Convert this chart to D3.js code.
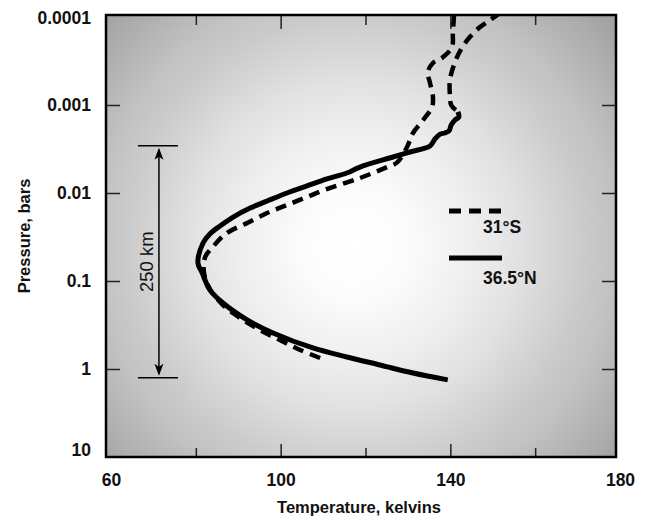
<!DOCTYPE html>
<html>
<head>
<meta charset="utf-8">
<script src="https://cdn.jsdelivr.net/npm/d3@7"></script>
<style>
  body { margin: 0; background: #fff; }
  svg { display: block; font-family: "Liberation Sans", Arial, sans-serif; }
</style>
</head>
<body>
<div id="chart"></div>
<script>
// 36.5°N profile, solid part (bottom to top)
const northTemp = [139.4, 131.2, 123.4, 115.6, 107.6, 98.2, 92.1, 86.4, 83.3, 81.5, 80.5,
  81.7, 83.3, 85.7, 88.8, 92.8, 96.8, 101.5, 106.2, 110.9, 115.6, 118.7, 126.5, 130.5, 135.2,
  136.4, 137.6, 138.7, 139.7, 140.2, 141.1, 142.0, 141.8]
const northPres = [1.33, 1.11, 0.90, 0.73, 0.577, 0.39, 0.277, 0.178, 0.126, 0.081, 0.0624,
  0.037, 0.0292, 0.0237, 0.01875, 0.01481, 0.01233, 0.0100, 0.00832, 0.00693, 0.00593, 0.00507, 0.0039, 0.00342, 0.00292,
  0.00243, 0.00214, 0.00208, 0.00197, 0.00169, 0.00148, 0.00137, 0.0012]

// 36.5°N continuation above the wiggle (drawn dashed)
const northUpperTemp = [141.3, 140.2, 139.9, 139.9, 141.1, 142.7, 144.6, 147.0, 149.4, 151.7]
const northUpperPres = [0.00114, 0.001, 0.00077, 0.00052, 0.000324, 0.000225, 0.000169, 0.00013, 0.000108, 0.00009]

// 31°S profile (bottom to top)
const southTemp = [109.3, 104.6, 99.8, 95.1, 90.4, 86.4, 83.3, 81.9, 82.2, 84.0, 87.3, 92.1,
  96.8, 101.5, 106.2, 110.9, 118.7, 125.1, 127.4, 129.8, 131.2, 133.6, 135.7, 135.9, 135.2,
  134.7, 135.9, 138.3, 140.4, 140.6, 140.9]
const southPres = [0.75, 0.608, 0.468, 0.36, 0.263, 0.1875, 0.123, 0.079, 0.0534, 0.041, 0.0285, 0.0219,
  0.0169, 0.0137, 0.0111, 0.00901, 0.00676, 0.00507, 0.00452, 0.0030, 0.00208, 0.00148, 0.00105, 0.00081, 0.00056,
  0.000422, 0.000333, 0.000285, 0.000219, 0.000152, 0.00009]

const xTicks = [60, 80, 100, 120, 140, 160, 180]
const xLabels = [60, 100, 140, 180]
const yTicks = [0.0001, 0.001, 0.01, 0.1, 1, 10]
const yLabels = ["0.0001", "0.001", "0.01", "0.1", "1", "10"]
const seriesNames = ["31°S", "36.5°N"]

// height bar annotation
const scaleLabel = "250 km"
const scaleTemp = 71.3
const scalePres = [0.0029, 1.26]

// setup the dimensions
const W = 651, H = 520
const frame = { left: 106, top: 15, right: 616, bottom: 457 }

const svg = d3.select("#chart").append("svg")
  .attr("width", W)
  .attr("height", H)

const x = d3.scaleLinear().domain([60, 180]).range([111, 620])
const y = d3.scaleLog().domain([1e-4, 10]).range([17, 457])

// background shading
const defs = svg.append("defs")
const grad = defs.append("radialGradient")
  .attr("id", "bg")
  .attr("gradientUnits", "userSpaceOnUse")
  .attr("cx", 355).attr("cy", 245).attr("r", 345)
const stops = [[0, "#ffffff"], [0.15, "#fcfcfc"], [0.34, "#eeeeee"], [0.47, "#e2e2e2"],
  [0.66, "#cbcbcb"], [0.75, "#c2c2c2"], [1, "#a0a0a0"]]
stops.forEach(s => grad.append("stop").attr("offset", s[0]).attr("stop-color", s[1]))

defs.append("clipPath").attr("id", "clip")
  .append("rect")
    .attr("x", frame.left).attr("y", frame.top)
    .attr("width", frame.right - frame.left)
    .attr("height", frame.bottom - frame.top)

svg.append("rect")
  .attr("x", frame.left).attr("y", frame.top)
  .attr("width", frame.right - frame.left)
  .attr("height", frame.bottom - frame.top)
  .attr("fill", "url(#bg)")

function styleAxis(g, fontSize) {
  g.select(".domain").remove()
  g.selectAll(".tick line").attr("stroke", "#222").attr("stroke-width", 1.5)
  g.selectAll(".tick text")
    .attr("fill", "#111")
    .style("font-size", fontSize + "px")
    .style("font-weight", "bold")
}

// left axis
const leftAxis = svg.append("g")
  .attr("transform", `translate(${frame.left},0)`)
  .call(d3.axisLeft(y).tickValues(yTicks).tickFormat((d, i) => yLabels[i]).tickSize(-14).tickPadding(15))
styleAxis(leftAxis, 17.5)
leftAxis.selectAll(".tick").filter(d => d === 10 || d === 0.0001).select("line").remove()
leftAxis.selectAll(".tick text").filter(d => d === 10).attr("y", -7)
leftAxis.selectAll(".tick text").filter(d => d === 0.0001).attr("y", 1)

// right axis
const rightAxis = svg.append("g")
  .attr("transform", `translate(${frame.right},0)`)
  .call(d3.axisRight(y).tickValues(yTicks.slice(1, -1)).tickFormat("").tickSize(-14))
styleAxis(rightAxis, 17.5)

// bottom axis, labelled ticks then minor ones
const bottomAxis = svg.append("g")
  .attr("transform", `translate(0,${frame.bottom})`)
  .call(d3.axisBottom(x).tickValues(xLabels).tickSize(-13).tickPadding(17))
styleAxis(bottomAxis, 17.5)
bottomAxis.selectAll(".tick").filter(d => d === 60 || d === 180).select("line").remove()

const minorX = xTicks.filter(d => !xLabels.includes(d))
const bottomMinor = svg.append("g")
  .attr("transform", `translate(0,${frame.bottom})`)
  .call(d3.axisBottom(x).tickValues(minorX).tickFormat("").tickSize(-9))
styleAxis(bottomMinor, 17.5)

// top axis
const topAxis = svg.append("g")
  .attr("transform", `translate(0,${frame.top})`)
  .call(d3.axisTop(x).tickValues([100, 140]).tickFormat("").tickSize(-14))
styleAxis(topAxis, 17.5)
const topMinor = svg.append("g")
  .attr("transform", `translate(0,${frame.top})`)
  .call(d3.axisTop(x).tickValues(minorX).tickFormat("").tickSize(-10))
styleAxis(topMinor, 17.5)

// the profiles
const line = d3.line()
  .curve(d3.curveCatmullRom.alpha(0.5))
  .x(d => x(d[0]))
  .y(d => y(d[1]))

const curves = svg.append("g").attr("clip-path", "url(#clip)")

curves.append("path")
  .datum(d3.zip(southTemp, southPres))
  .attr("fill", "none")
  .attr("stroke", "#000")
  .attr("stroke-width", 4.5)
  .attr("stroke-dasharray", "11,7")
  .attr("d", line)

curves.append("path")
  .datum(d3.zip(northUpperTemp, northUpperPres))
  .attr("fill", "none")
  .attr("stroke", "#000")
  .attr("stroke-width", 4.5)
  .attr("stroke-dasharray", "11,7")
  .attr("d", line)

curves.append("path")
  .datum(d3.zip(northTemp, northPres))
  .attr("fill", "none")
  .attr("stroke", "#000")
  .attr("stroke-width", 5)
  .attr("stroke-linejoin", "round")
  .attr("d", line)

// 250 km height bar
const bx = x(scaleTemp)
const yTop = y(scalePres[0]), yBot = y(scalePres[1])
const anno = svg.append("g").attr("stroke", "#000").attr("stroke-width", 1.5)
anno.append("line").attr("x1", bx).attr("x2", bx).attr("y1", yTop + 4).attr("y2", yBot - 4)
anno.append("line").attr("x1", bx - 21).attr("x2", bx + 19).attr("y1", yTop).attr("y2", yTop)
anno.append("line").attr("x1", bx - 21).attr("x2", bx + 19).attr("y1", yBot).attr("y2", yBot)
svg.append("path")
  .attr("d", `M${bx},${yTop + 2} L${bx + 4.5},${yTop + 14} L${bx},${yTop + 11} L${bx - 4.5},${yTop + 14} Z`)
  .attr("fill", "#000")
svg.append("path")
  .attr("d", `M${bx},${yBot - 2} L${bx + 4.5},${yBot - 14} L${bx},${yBot - 11} L${bx - 4.5},${yBot - 14} Z`)
  .attr("fill", "#000")
svg.append("text")
  .attr("transform", `translate(${bx - 6},${(yTop + yBot) / 2}) rotate(-90)`)
  .attr("text-anchor", "middle")
  .style("font-size", "18.5px")
  .attr("fill", "#111")
  .text(scaleLabel)

// legend
const legend = svg.append("g")
legend.append("line")
  .attr("x1", 449).attr("x2", 502).attr("y1", 211).attr("y2", 211)
  .attr("stroke", "#000").attr("stroke-width", 5).attr("stroke-dasharray", "12,8")
legend.append("line")
  .attr("x1", 449).attr("x2", 502).attr("y1", 258).attr("y2", 258)
  .attr("stroke", "#000").attr("stroke-width", 5)
legend.selectAll("text")
  .data(seriesNames)
  .enter().append("text")
    .attr("x", 483)
    .attr("y", (d, i) => i === 0 ? 233 : 284)
    .style("font-size", "17.5px")
    .style("font-weight", "bold")
    .attr("fill", "#111")
    .text(d => d)

// frame on top
svg.append("rect")
  .attr("x", frame.left).attr("y", frame.top)
  .attr("width", frame.right - frame.left)
  .attr("height", frame.bottom - frame.top)
  .attr("fill", "none")
  .attr("stroke", "#000")
  .attr("stroke-width", 2.5)

// axis titles
svg.append("text")
  .attr("x", (frame.left + frame.right) / 2 - 2)
  .attr("y", 513)
  .attr("text-anchor", "middle")
  .style("font-size", "16.5px")
  .style("font-weight", "bold")
  .attr("fill", "#111")
  .text("Temperature, kelvins")

svg.append("text")
  .attr("transform", `translate(30,${(frame.top + frame.bottom) / 2}) rotate(-90)`)
  .attr("text-anchor", "middle")
  .style("font-size", "16.5px")
  .style("font-weight", "bold")
  .attr("fill", "#111")
  .text("Pressure, bars")
</script>
</body>
</html>
